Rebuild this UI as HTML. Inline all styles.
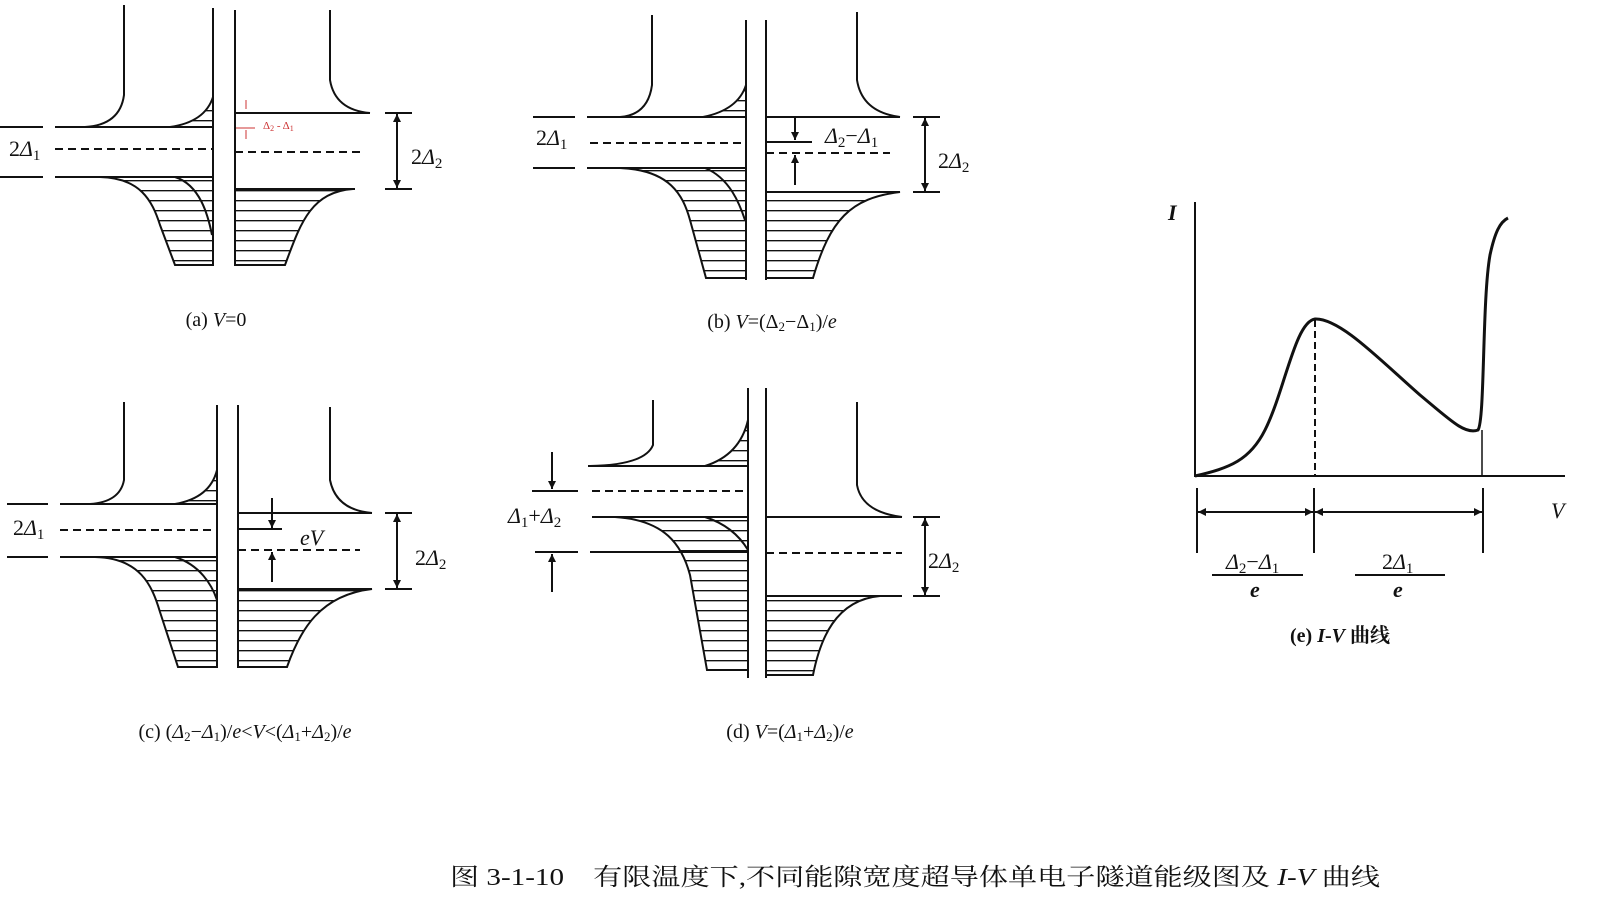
<!DOCTYPE html>
<html><head><meta charset="utf-8"><style>
html,body{margin:0;padding:0;background:#fff;}
svg{display:block;}
text{font-family:"Liberation Serif","Noto Serif CJK SC",serif;fill:#111;}
</style></head><body>
<svg width="1600" height="910" viewBox="0 0 1600 910" xmlns="http://www.w3.org/2000/svg">
<defs>
<pattern id="h" width="20" height="10" patternUnits="userSpaceOnUse"><line x1="0" y1="0.7" x2="20" y2="0.7" stroke="#111" stroke-width="1.4"/></pattern>
<marker id="ar" viewBox="0 0 10 10" refX="10" refY="5" markerWidth="8" markerHeight="9" orient="auto-start-reverse" markerUnits="userSpaceOnUse"><path d="M0,0 L10,5 L0,10 Z" fill="#111"/></marker>
</defs>
<g fill="none" stroke="#111" stroke-width="2">

<!-- (a) -->
<line x1="213" y1="8" x2="213" y2="265"/><line x1="235" y1="10" x2="235" y2="265"/>
<path d="M124,5 L124,95 Q120,125 85,127"/>
<line x1="0" y1="127" x2="43" y2="127"/><line x1="55" y1="127" x2="213" y2="127"/>
<path d="M170,127 Q205,122 213,97 L213,127 Z" fill="url(#h)"/>
<line x1="55" y1="149" x2="213" y2="149" stroke-dasharray="8,5"/>
<line x1="0" y1="177" x2="43" y2="177"/><line x1="55" y1="177" x2="213" y2="177"/>
<path d="M100,177 C140,178 152,200 160,225 L175,265 L213,265 L213,177 Z" fill="url(#h)"/>
<path d="M175,177 C200,185 208,215 212,235"/>
<path d="M330,10 L330,80 Q335,110 370,113"/>
<line x1="235" y1="113" x2="370" y2="113"/>
<line x1="235" y1="152" x2="363" y2="152" stroke-dasharray="8,5"/>
<path d="M353,189 C310,192 300,225 285,265 L235,265 L235,189 Z" fill="url(#h)"/>
<line x1="235" y1="189" x2="355" y2="189"/>
<line x1="385" y1="113" x2="412" y2="113"/><line x1="385" y1="189" x2="412" y2="189"/>
<line x1="397" y1="114" x2="397" y2="188" marker-start="url(#ar)" marker-end="url(#ar)"/>
<g stroke="#c33" stroke-width="1"><line x1="246" y1="100" x2="246" y2="109"/><line x1="236" y1="128" x2="255" y2="128"/><line x1="246" y1="130" x2="246" y2="139"/></g>

<!-- (b) -->
<line x1="746" y1="20" x2="746" y2="280"/><line x1="766" y1="20" x2="766" y2="280"/>
<path d="M652,15 L652,85 Q648,115 620,117"/>
<line x1="533" y1="117" x2="575" y2="117"/><line x1="587" y1="117" x2="746" y2="117"/>
<path d="M703,117 Q738,110 746,85 L746,117 Z" fill="url(#h)"/>
<line x1="590" y1="143" x2="746" y2="143" stroke-dasharray="8,5"/>
<line x1="533" y1="168" x2="575" y2="168"/><line x1="587" y1="168" x2="746" y2="168"/>
<path d="M620,168 C670,170 683,195 690,220 L706,278 L746,278 L746,168 Z" fill="url(#h)"/>
<path d="M705,168 C730,178 740,205 745,220"/>
<path d="M857,12 L857,80 Q862,112 900,117"/>
<line x1="766" y1="117" x2="900" y2="117"/>
<line x1="795" y1="118" x2="795" y2="140" marker-end="url(#ar)"/>
<line x1="766" y1="142" x2="812" y2="142"/>
<line x1="766" y1="153" x2="890" y2="153" stroke-dasharray="8,5"/>
<line x1="795" y1="185" x2="795" y2="155" marker-end="url(#ar)"/>
<path d="M900,192 C850,198 830,220 813,278 L766,278 L766,192 Z" fill="url(#h)"/>
<line x1="766" y1="192" x2="900" y2="192"/>
<line x1="913" y1="117" x2="940" y2="117"/><line x1="913" y1="192" x2="940" y2="192"/>
<line x1="925" y1="118" x2="925" y2="191" marker-start="url(#ar)" marker-end="url(#ar)"/>

<!-- (c) -->
<line x1="217" y1="405" x2="217" y2="667"/><line x1="238" y1="405" x2="238" y2="667"/>
<path d="M124,402 L124,480 Q120,502 90,504"/>
<line x1="7" y1="504" x2="48" y2="504"/><line x1="60" y1="504" x2="217" y2="504"/>
<path d="M175,504 Q210,498 217,470 L217,504 Z" fill="url(#h)"/>
<line x1="60" y1="530" x2="217" y2="530" stroke-dasharray="8,5"/>
<line x1="7" y1="557" x2="48" y2="557"/><line x1="60" y1="557" x2="217" y2="557"/>
<path d="M95,557 C140,558 152,585 160,612 L178,667 L217,667 L217,557 Z" fill="url(#h)"/>
<path d="M175,557 C200,565 212,585 217,600"/>
<path d="M330,407 L330,480 Q336,510 372,513"/>
<line x1="238" y1="513" x2="372" y2="513"/>
<line x1="272" y1="498" x2="272" y2="528" marker-end="url(#ar)"/>
<line x1="238" y1="529" x2="282" y2="529"/>
<line x1="238" y1="550" x2="360" y2="550" stroke-dasharray="8,5"/>
<line x1="272" y1="582" x2="272" y2="552" marker-end="url(#ar)"/>
<path d="M372,589 C320,595 300,630 287,667 L238,667 L238,589 Z" fill="url(#h)"/>
<line x1="238" y1="589" x2="372" y2="589"/>
<line x1="385" y1="513" x2="412" y2="513"/><line x1="385" y1="589" x2="412" y2="589"/>
<line x1="397" y1="514" x2="397" y2="588" marker-start="url(#ar)" marker-end="url(#ar)"/>

<!-- (d) -->
<line x1="748" y1="388" x2="748" y2="678"/><line x1="766" y1="388" x2="766" y2="678"/>
<path d="M653,400 L653,445 Q645,465 590,466"/>
<line x1="588" y1="466" x2="748" y2="466"/>
<path d="M705,466 Q740,455 748,420 L748,466 Z" fill="url(#h)"/>
<line x1="592" y1="491" x2="748" y2="491" stroke-dasharray="8,5"/>
<line x1="532" y1="491" x2="578" y2="491"/>
<line x1="552" y1="452" x2="552" y2="489" marker-end="url(#ar)"/>
<line x1="592" y1="517" x2="748" y2="517"/>
<path d="M615,517 C665,520 682,545 690,575 L707,670 L748,670 L748,517 Z" fill="url(#h)"/>
<path d="M705,517 C730,525 742,540 748,550"/>
<line x1="590" y1="552" x2="748" y2="552"/>
<line x1="535" y1="552" x2="578" y2="552"/>
<line x1="552" y1="592" x2="552" y2="554" marker-end="url(#ar)"/>
<path d="M857,402 L857,485 Q862,512 902,517"/>
<line x1="766" y1="517" x2="902" y2="517"/>
<line x1="766" y1="553" x2="902" y2="553" stroke-dasharray="8,5"/>
<path d="M880,596 C835,600 820,640 813,675 L766,675 L766,596 Z" fill="url(#h)"/>
<line x1="766" y1="596" x2="902" y2="596"/>
<line x1="913" y1="517" x2="940" y2="517"/><line x1="913" y1="596" x2="940" y2="596"/>
<line x1="925" y1="518" x2="925" y2="595" marker-start="url(#ar)" marker-end="url(#ar)"/>

<!-- (e) -->
<line x1="1195" y1="202" x2="1195" y2="476"/>
<line x1="1194" y1="476" x2="1565" y2="476"/>
<path d="M1195,476 C1230,468 1250,460 1265,430 C1285,390 1295,322 1315,319 C1340,318 1380,360 1420,395 C1450,420 1465,435 1478,430 C1485,420 1482,300 1490,255 C1495,232 1500,222 1508,218" stroke-width="3"/>
<line x1="1315" y1="320" x2="1315" y2="476" stroke-dasharray="7,4"/>
<line x1="1482" y1="430" x2="1482" y2="476" stroke-width="1.5"/>
<line x1="1197" y1="488" x2="1197" y2="553"/><line x1="1314" y1="488" x2="1314" y2="553"/><line x1="1483" y1="488" x2="1483" y2="553"/>
<line x1="1198" y1="512" x2="1313" y2="512" marker-start="url(#ar)" marker-end="url(#ar)"/>
<line x1="1315" y1="512" x2="1482" y2="512" marker-start="url(#ar)" marker-end="url(#ar)"/>
<line x1="1212" y1="575" x2="1303" y2="575"/><line x1="1355" y1="575" x2="1445" y2="575"/>
</g>

<g font-size="22">
<text x="9" y="156">2<tspan font-style="italic">Δ</tspan><tspan font-size="15" dy="4">1</tspan></text>
<text x="411" y="164">2<tspan font-style="italic">Δ</tspan><tspan font-size="15" dy="4">2</tspan></text>
<text x="263" y="129" font-size="11" style="fill:#c33">Δ<tspan font-size="8" dy="2">2</tspan><tspan dy="-2"> - Δ</tspan><tspan font-size="8" dy="2">1</tspan></text>
<text x="536" y="145">2<tspan font-style="italic">Δ</tspan><tspan font-size="15" dy="4">1</tspan></text>
<text x="825" y="143"><tspan font-style="italic">Δ</tspan><tspan font-size="15" dy="4">2</tspan><tspan dy="-4">−</tspan><tspan font-style="italic">Δ</tspan><tspan font-size="15" dy="4">1</tspan></text>
<text x="938" y="168">2<tspan font-style="italic">Δ</tspan><tspan font-size="15" dy="4">2</tspan></text>
<text x="13" y="535">2<tspan font-style="italic">Δ</tspan><tspan font-size="15" dy="4">1</tspan></text>
<text x="300" y="545" font-style="italic">eV</text>
<text x="415" y="565">2<tspan font-style="italic">Δ</tspan><tspan font-size="15" dy="4">2</tspan></text>
<text x="508" y="523"><tspan font-style="italic">Δ</tspan><tspan font-size="15" dy="4">1</tspan><tspan dy="-4">+</tspan><tspan font-style="italic">Δ</tspan><tspan font-size="15" dy="4">2</tspan></text>
<text x="928" y="568">2<tspan font-style="italic">Δ</tspan><tspan font-size="15" dy="4">2</tspan></text>
<text x="1168" y="220" font-style="italic" font-weight="bold">I</text>
<text x="1551" y="518" font-style="italic">V</text>
<text x="1226" y="569"><tspan font-style="italic">Δ</tspan><tspan font-size="15" dy="4">2</tspan><tspan dy="-4">−</tspan><tspan font-style="italic">Δ</tspan><tspan font-size="15" dy="4">1</tspan></text>
<text x="1250" y="597" font-style="italic" font-weight="bold">e</text>
<text x="1382" y="569">2<tspan font-style="italic">Δ</tspan><tspan font-size="15" dy="4">1</tspan></text>
<text x="1393" y="597" font-style="italic" font-weight="bold">e</text>
</g>
<g font-size="20">
<text x="216" y="326" text-anchor="middle">(a) <tspan font-style="italic">V</tspan>=0</text>
<text x="772" y="328" text-anchor="middle">(b) <tspan font-style="italic">V</tspan>=(Δ<tspan font-size="13" dy="3">2</tspan><tspan dy="-3">−Δ</tspan><tspan font-size="13" dy="3">1</tspan><tspan dy="-3">)/</tspan><tspan font-style="italic">e</tspan></text>
<text x="245" y="738" text-anchor="middle">(c) (<tspan font-style="italic">Δ</tspan><tspan font-size="13" dy="3">2</tspan><tspan dy="-3">−</tspan><tspan font-style="italic">Δ</tspan><tspan font-size="13" dy="3">1</tspan><tspan dy="-3">)/</tspan><tspan font-style="italic">e</tspan>&lt;<tspan font-style="italic">V</tspan>&lt;(<tspan font-style="italic">Δ</tspan><tspan font-size="13" dy="3">1</tspan><tspan dy="-3">+</tspan><tspan font-style="italic">Δ</tspan><tspan font-size="13" dy="3">2</tspan><tspan dy="-3">)/</tspan><tspan font-style="italic">e</tspan></text>
<text x="790" y="738" text-anchor="middle">(d) <tspan font-style="italic">V</tspan>=(<tspan font-style="italic">Δ</tspan><tspan font-size="13" dy="3">1</tspan><tspan dy="-3">+</tspan><tspan font-style="italic">Δ</tspan><tspan font-size="13" dy="3">2</tspan><tspan dy="-3">)/</tspan><tspan font-style="italic">e</tspan></text>
<text x="1340" y="642" text-anchor="middle" font-weight="bold">(e) <tspan font-style="italic">I</tspan>-<tspan font-style="italic">V</tspan> 曲线</text>
</g>
<text x="450" y="885" font-size="24" textLength="930" lengthAdjust="spacingAndGlyphs">图 3-1-10　有限温度下,不同能隙宽度超导体单电子隧道能级图及 <tspan font-style="italic">I</tspan>-<tspan font-style="italic">V</tspan> 曲线</text>
</svg>
</body></html>
